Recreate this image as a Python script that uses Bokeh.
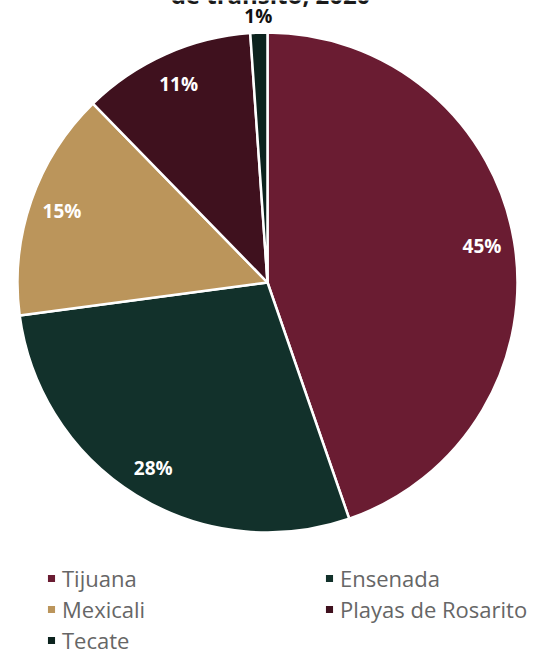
import numpy as np
from bokeh.plotting import figure
from bokeh.models import Range1d, Legend, LegendItem, ColumnDataSource
from bokeh.core.properties import value
from bokeh.embed import file_html
from bokeh.resources import INLINE

# ---- data ----
categories = ["Tijuana", "Ensenada", "Mexicali", "Playas de Rosarito", "Tecate"]
shares = [44.7, 28.2, 14.8, 11.2, 1.1]
labels = ["45%", "28%", "15%", "11%", "1%"]
colors = ["#6a1c32", "#12312b", "#bb955b", "#3f111e", "#0c231e"]
title_text = "de tránsito, 2020"

W, H = 531, 655
cx, cy, R = 267, H - 282, 250

vals = np.array(shares, dtype=float)
frac = vals / vals.sum()
cum_end = np.cumsum(frac)
cum_start = cum_end - frac
start = np.pi / 2 - 2 * np.pi * cum_start
end = np.pi / 2 - 2 * np.pi * cum_end
mid = np.pi / 2 - 2 * np.pi * (cum_start + frac / 2)

src = ColumnDataSource(dict(cat=categories, start=start, end=end, color=colors,
                            x=[cx] * len(vals), y=[cy] * len(vals)))

p = figure(width=W, height=H, output_backend="svg", toolbar_location=None,
           x_range=Range1d(0, W), y_range=Range1d(0, H), min_border=0)
p.axis.visible = False
p.grid.visible = False
p.outline_line_color = None
p.background_fill_color = "white"

r = p.wedge(x="x", y="y", radius=R, start_angle="start", end_angle="end",
            direction="clock", fill_color="color", line_color="white",
            line_width=2.5, source=src)

inside = frac >= 0.05
rr = np.where(inside, 0.87 * R, 1.065 * R)
lx = cx + rr * np.cos(mid)
ly = cy + rr * np.sin(mid)
tcol = np.where(inside, "white", "#111111").tolist()
lsrc = ColumnDataSource(dict(x=lx, y=ly, t=labels, c=tcol))
p.text(x="x", y="y", text="t", text_color="c", source=lsrc,
       text_font=value("Open Sans"), text_font_style="bold",
       text_font_size="19px", text_align="center", text_baseline="middle")

# title (only its lower edge shows at the top, as in the source image)
p.text(x=[270], y=[H + 6], text=[title_text], text_font=value("Open Sans"),
       text_font_style="bold", text_font_size="24px", text_color="#1a1a1a",
       text_align="center", text_baseline="alphabetic")

items = [LegendItem(label=c, renderers=[r], index=i) for i, c in enumerate(categories)]
legend = Legend(items=items, orientation="horizontal", ncols=2,
                location=(45, 0), margin=0, padding=0,
                border_line_color=None, background_fill_alpha=0,
                glyph_width=12, glyph_height=12, label_standoff=5,
                label_width=260, label_height=18, spacing=1,
                label_text_font="Open Sans", label_text_font_size="22px",
                label_text_color="#666666")
p.add_layout(legend, "center")

open("out.html", "w").write(file_html(p, INLINE))
